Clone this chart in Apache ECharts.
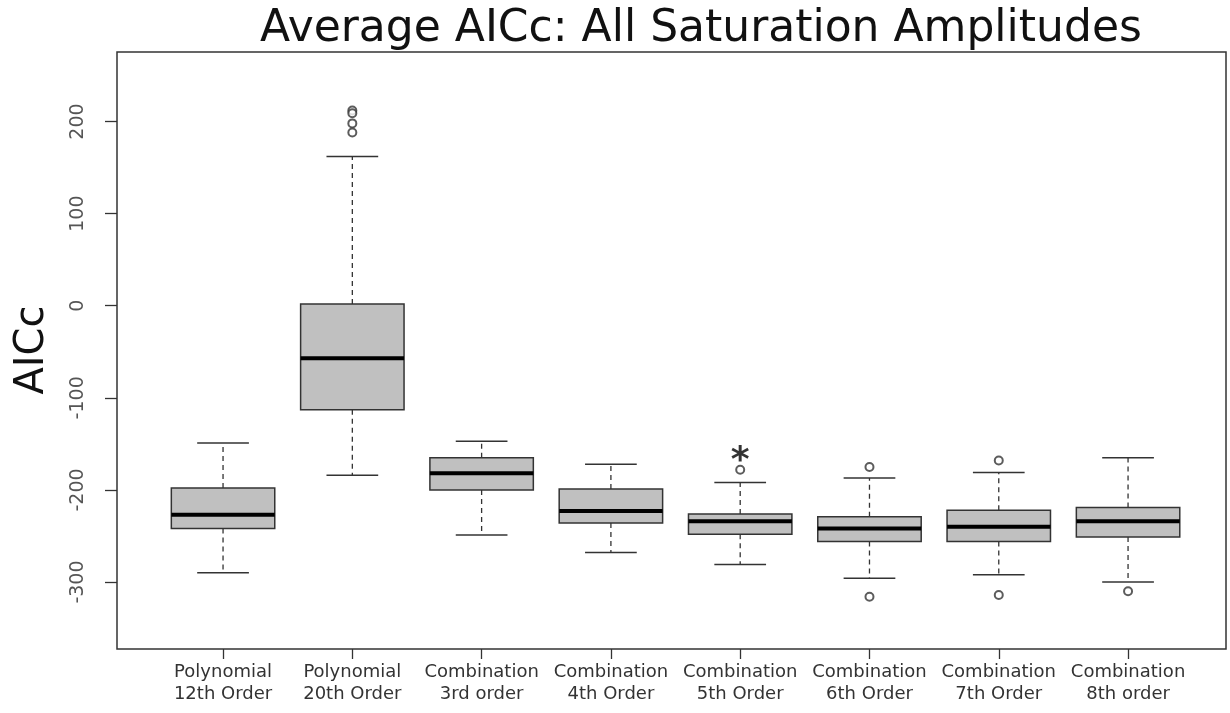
<!DOCTYPE html>
<html>
<head>
<meta charset="utf-8">
<title>Average AICc</title>
<script src="https://cdn.jsdelivr.net/npm/echarts@6/dist/echarts.min.js"></script>
<style>
  html, body { margin: 0; padding: 0; background: #fff; }
  #chart { width: 1230px; height: 713px; }
</style>
</head>
<body>
<div id="chart"></div>
<script>
// model names (x categories)
var categories = [
  'Polynomial\n12th Order', 'Polynomial\n20th Order', 'Combination\n3rd order', 'Combination\n4th Order',
  'Combination\n5th Order', 'Combination\n6th Order', 'Combination\n7th Order', 'Combination\n8th order'
]
// box statistics
var lowWhisker = [-290, -184, -249, -268, -281, -296, -292, -300]
var q1 = [-242, -113, -200, -236, -248, -256, -256, -251]
var median = [-227, -57, -182, -223, -234, -242, -240, -234]
var q3 = [-198, 2, -165, -199, -226, -229, -222, -219]
var highWhisker = [-149, 162, -147, -172, -192, -187, -181, -165]
// [category index, value]
var outliers = [[1, 212], [1, 209], [1, 198], [1, 188], [4, -178], [5, -175], [5, -316], [6, -168], [6, -314], [7, -310]]
var starred = [[4, -159]]
var yTicks = [-300, -200, -100, 0, 100, 200]

var boxData = categories.map(function (c, i) {
  return [i, lowWhisker[i], q1[i], median[i], q3[i], highWhisker[i]]
})

function renderBox(params, api) {
  var i = api.value(0)
  var band = api.size([1, 0])[0]
  var hw = band * 0.4
  var cw = band * 0.2
  var x = api.coord([i, 0])[0]
  var yLo = api.coord([i, api.value(1)])[1]
  var yQ1 = api.coord([i, api.value(2)])[1]
  var yMed = api.coord([i, api.value(3)])[1]
  var yQ3 = api.coord([i, api.value(4)])[1]
  var yHi = api.coord([i, api.value(5)])[1]
  var dash = { stroke: '#333', lineWidth: 1.3, lineDash: [5, 4] }
  var solid = { stroke: '#333', lineWidth: 1.5 }
  return {
    type: 'group',
    children: [
      { type: 'line', shape: { x1: x, y1: yQ3, x2: x, y2: yHi }, style: dash },
      { type: 'line', shape: { x1: x, y1: yQ1, x2: x, y2: yLo }, style: dash },
      { type: 'line', shape: { x1: x - cw, y1: yHi, x2: x + cw, y2: yHi }, style: solid },
      { type: 'line', shape: { x1: x - cw, y1: yLo, x2: x + cw, y2: yLo }, style: solid },
      { type: 'rect', shape: { x: x - hw, y: yQ3, width: hw * 2, height: yQ1 - yQ3 },
        style: { fill: '#c0c0c0', stroke: '#333', lineWidth: 1.5 } },
      { type: 'line', shape: { x1: x - hw, y1: yMed, x2: x + hw, y2: yMed },
        style: { stroke: '#000', lineWidth: 4 } }
    ]
  }
}

var chart = echarts.init(document.getElementById('chart'))
chart.setOption({
  backgroundColor: '#fff',
  animation: false,
  title: {
    text: 'Average AICc: All Saturation Amplitudes',
    left: 696,
    textAlign: 'center',
    top: 3,
    textStyle: { fontFamily: 'DejaVu Sans', fontSize: 44, fontWeight: 'normal', color: '#111' }
  },
  graphic: [
    { type: 'rect', shape: { x: 117, y: 52, width: 1109, height: 597 },
      style: { fill: 'none', stroke: '#333', lineWidth: 1.5 }, z: 10 },
    { type: 'text', x: 33, y: 350, rotation: Math.PI / 2,
      style: { text: 'AICc', fontFamily: 'DejaVu Sans', fontSize: 40, fill: '#111', align: 'center', verticalAlign: 'middle' } }
  ],
  grid: { left: 158.4, right: 37.3, top: 52, bottom: 64 },
  xAxis: {
    type: 'category',
    data: categories,
    axisLine: { show: false, onZero: false },
    axisTick: { show: true, alignWithLabel: true, length: 10, lineStyle: { color: '#333', width: 1.3 } },
    axisLabel: { fontFamily: 'DejaVu Sans', fontSize: 18, color: '#333', lineHeight: 22, margin: 12, interval: 0 },
    splitLine: { show: false }
  },
  yAxis: {
    type: 'value',
    min: -372.7,
    max: 275.5,
    offset: 41.4,
    axisLine: { show: false },
    axisTick: { show: true, length: 12, customValues: yTicks, lineStyle: { color: '#333', width: 1.3 } },
    axisLabel: { customValues: yTicks, rotate: 90, fontFamily: 'DejaVu Sans', fontSize: 19, color: '#555', margin: 29 },
    splitLine: { show: false }
  },
  series: [
    {
      type: 'custom',
      name: 'AICc',
      renderItem: renderBox,
      encode: { x: 0, y: [1, 2, 3, 4, 5] },
      data: boxData,
      z: 2
    },
    {
      type: 'scatter',
      name: 'outliers',
      data: outliers,
      symbol: 'emptyCircle',
      symbolSize: 8,
      itemStyle: { color: '#333', borderColor: '#333', borderWidth: 1.8 },
      z: 3
    },
    {
      type: 'scatter',
      name: 'significant',
      data: starred,
      symbolSize: 0,
      label: {
        show: true,
        position: 'inside',
        formatter: '*',
        fontFamily: 'DejaVu Sans',
        fontSize: 36,
        fontWeight: 'bold',
        color: '#000',
        offset: [0, 9]
      },
      z: 3
    }
  ]
})
</script>
</body>
</html>
